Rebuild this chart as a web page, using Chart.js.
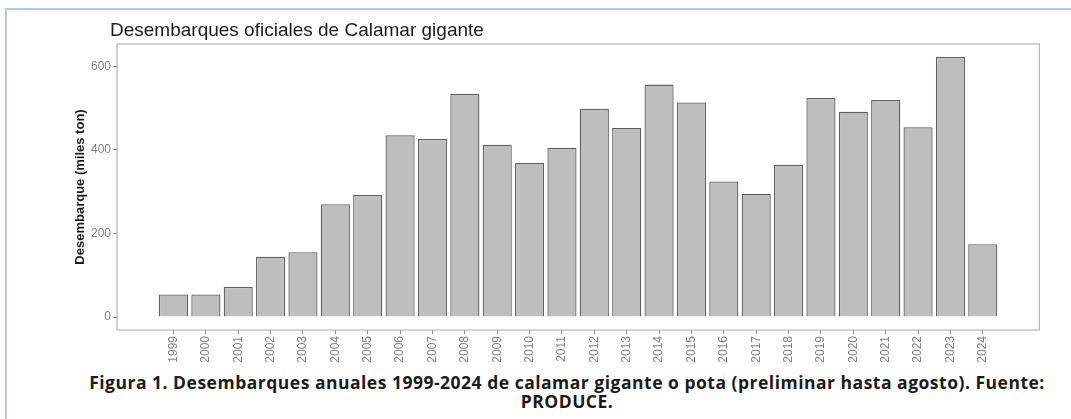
<!DOCTYPE html>
<html lang="es">
  <head>
    <meta charset="UTF-8" />
    <title>Desembarques oficiales de Calamar gigante</title>
    <style>
      html,
      body {
        margin: 0;
        padding: 0;
        background: #fff;
      }
      body {
        width: 1071px;
        height: 419px;
        position: relative;
        overflow: hidden;
        font-family: "Liberation Sans", Arial, sans-serif;
      }
      /* marco azul del documento */
      .frame {
        position: absolute;
        left: 5px;
        top: 8px;
        right: -10px;
        bottom: -10px;
        border-top: 2px solid #b4c7e7;
        border-left: 2px solid #b4c7e7;
      }
      .title {
        position: absolute;
        left: 110px;
        top: 19px;
        font-size: 19px;
        line-height: 21px;
        color: #1a1a1a;
        white-space: nowrap;
      }
      .chart {
        position: absolute;
        left: 0;
        top: 0;
        width: 1071px;
        height: 370px;
      }
      .caption {
        position: absolute;
        left: 17px;
        width: 1100px;
        top: 373px;
        text-align: center;
        font-family: "Open Sans", sans-serif;
        font-weight: 700;
        font-size: 17.5px;
        letter-spacing: 0.5px;
        line-height: 19px;
        color: #1a1a1a;
        white-space: nowrap;
      }
    </style>
  </head>
  <body>
    <script src="https://cdn.jsdelivr.net/npm/chart.js"></script>
    <div class="frame"></div>
    <div class="chart"><canvas id="chart"></canvas></div>
    <div class="title">Desembarques oficiales de Calamar gigante</div>
    <div class="caption">
      Figura 1. Desembarques anuales 1999-2024 de calamar gigante o pota (preliminar hasta agosto). Fuente:<br />
      PRODUCE.
    </div>

    <script>
      const years = [
        1999, 2000, 2001, 2002, 2003, 2004, 2005, 2006, 2007, 2008, 2009, 2010, 2011,
        2012, 2013, 2014, 2015, 2016, 2017, 2018, 2019, 2020, 2021, 2022, 2023, 2024,
      ];
      // miles de toneladas
      const landings = [
        54, 54, 72, 144, 155, 270, 292, 435, 426, 534, 412, 369, 405,
        498, 452, 556, 513, 324, 294, 364, 524, 491, 519, 454, 622, 174,
      ];
      const yTicks = [0, 200, 400, 600];

      // borde del panel (estilo ggplot)
      const panelBorder = {
        id: "panelBorder",
        afterDatasetsDraw(chart) {
          const { ctx, chartArea: a } = chart;
          ctx.save();
          ctx.strokeStyle = "#a6a6a6";
          ctx.lineWidth = 1;
          ctx.strokeRect(a.left, a.top, a.right - a.left, a.bottom - a.top);
          ctx.restore();
        },
      };

      const ctx = document.getElementById("chart");
      new Chart(ctx, {
        type: "bar",
        data: {
          datasets: [
            {
              data: years.map((y, i) => ({ x: y, y: landings[i] })),
              backgroundColor: "#bebebe",
              borderColor: "#606060",
              borderWidth: 1.3,
              barPercentage: 0.9,
              categoryPercentage: 1,
            },
          ],
        },
        options: {
          responsive: true,
          maintainAspectRatio: false,
          animation: false,
          layout: { padding: { top: 44, right: 31.7, bottom: 0, left: 0 } },
          plugins: {
            legend: { display: false },
            tooltip: { enabled: false },
          },
          scales: {
            x: {
              type: "linear",
              offset: false,
              min: 1997.255,
              max: 2025.745,
              afterBuildTicks: (s) => {
                s.ticks = years.map((v) => ({ value: v }));
              },
              afterFit: (s) => {
                s.height = 40;
              },
              border: { display: false },
              grid: { offset: false, drawOnChartArea: false, tickLength: 4, color: "#8c8c8c" },
              ticks: {
                autoSkip: false,
                minRotation: 90,
                maxRotation: 90,
                padding: 2,
                color: "#7f7f7f",
                font: { family: "Liberation Sans", size: 12 },
                callback: (v) => String(v),
              },
            },
            y: {
              min: -31.1,
              max: 653.1,
              afterBuildTicks: (s) => {
                s.ticks = yTicks.map((v) => ({ value: v }));
              },
              afterFit: (s) => {
                s.width = 117;
              },
              border: { display: false },
              grid: { drawOnChartArea: false, tickLength: 4, color: "#8c8c8c" },
              ticks: {
                padding: 2,
                color: "#7f7f7f",
                font: { family: "Liberation Sans", size: 12 },
              },
              title: {
                display: true,
                text: "Desembarque (miles ton)",
                color: "#1a1a1a",
                font: { family: "Liberation Sans", size: 13, weight: "bold" },
                padding: { top: 73, bottom: 0 },
              },
            },
          },
        },
        plugins: [panelBorder],
      });
    </script>
  </body>
</html>
